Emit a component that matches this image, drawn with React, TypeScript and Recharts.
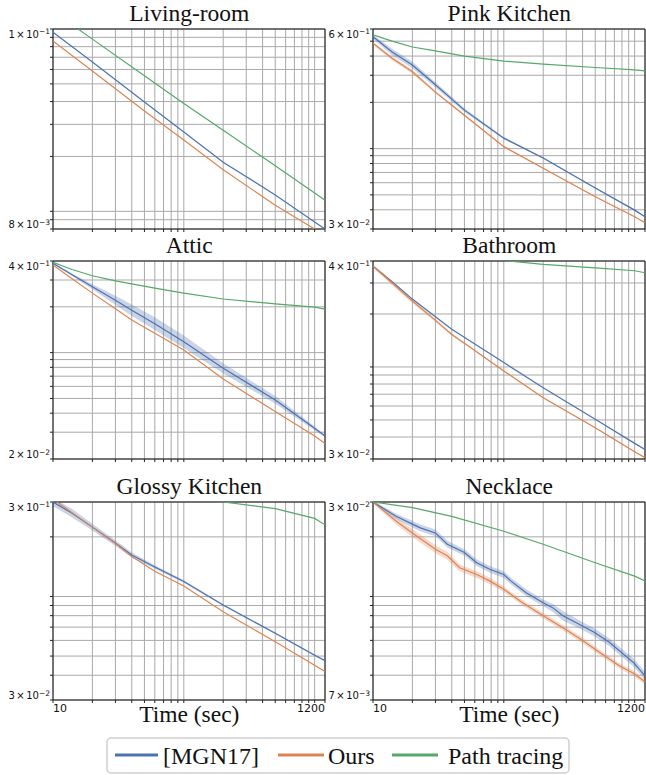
import React from 'react';
import { ComposedChart, Line, Area, XAxis, YAxis, CartesianGrid, ReferenceArea } from 'recharts';

const BLUE = '#4c72b0';
const ORANGE = '#dd8452';
const GREEN = '#55a868';

const SERIES_NAMES = ['[MGN17]', 'Ours', 'Path tracing'];
const X_DOMAIN = [10, 1200];
const X_TICKS = [10, 20, 30, 40, 50, 60, 70, 80, 90, 100, 200, 300, 400, 500, 600, 700, 800, 900, 1000, 1200];
const X_LABEL = 'Time (sec)';

// ---------- Living-room ----------
const LR_T = [10, 20, 50, 100, 200, 500, 1000, 1200];
const LR_MGN = [0.096, 0.066, 0.0398, 0.0272, 0.0186, 0.0123, 0.00873, 0.008];
const LR_OURS = [0.086, 0.0589, 0.0355, 0.0246, 0.0169, 0.0108, 0.008, 0.00734];
const LR_PT = [0.125, 0.088, 0.0554, 0.039, 0.0278, 0.0178, 0.0126, 0.0115];
const LR_Y_DOMAIN = [0.008, 0.1];
const LR_Y_TICKS = [0.008, 0.009, 0.01, 0.02, 0.03, 0.04, 0.05, 0.06, 0.07, 0.08, 0.09, 0.1];
const LR_Y_LABELS = [['8', '−3'], ['1', '−1']];

// ---------- Pink Kitchen ----------
const PK_T = [10, 14, 20, 30, 50, 100, 200, 500, 1000, 1200];
const PK_MGN = [0.534, 0.425, 0.35, 0.26, 0.178, 0.117, 0.0869, 0.0555, 0.0398, 0.036];
const PK_MGN_SPREAD = [0.03, 0.05, 0.05, 0.04, 0.03, 0.015, 0.01, 0.01, 0.01, 0.01];
const PK_OURS = [0.484, 0.387, 0.316, 0.233, 0.165, 0.103, 0.0745, 0.0486, 0.036, 0.033];
const PK_OURS_SPREAD = [0.02, 0.03, 0.03, 0.02, 0.015, 0.01, 0.008, 0.008, 0.008, 0.008];
const PK_PT = [0.549, 0.5, 0.458, 0.432, 0.4, 0.371, 0.355, 0.337, 0.325, 0.32];
const PK_Y_DOMAIN = [0.03, 0.6];
const PK_Y_TICKS = [0.03, 0.04, 0.05, 0.06, 0.07, 0.08, 0.09, 0.1, 0.2, 0.3, 0.4, 0.5, 0.6];
const PK_Y_LABELS = [['3', '−2'], ['6', '−1']];

// ---------- Attic ----------
const AT_T = [10, 14, 20, 30, 40, 60, 100, 200, 500, 1000, 1200];
const AT_MGN = [0.386, 0.325, 0.271, 0.221, 0.19, 0.155, 0.118, 0.0789, 0.0489, 0.0318, 0.0283];
const AT_MGN_SPREAD = [0.01, 0.02, 0.04, 0.07, 0.09, 0.1, 0.1, 0.08, 0.06, 0.03, 0.02];
const AT_OURS = [0.376, 0.306, 0.246, 0.194, 0.164, 0.134, 0.104, 0.0671, 0.041, 0.0283, 0.0253];
const AT_PT = [0.392, 0.352, 0.32, 0.296, 0.283, 0.265, 0.246, 0.225, 0.209, 0.199, 0.193];
const AT_Y_DOMAIN = [0.02, 0.4];
const AT_Y_TICKS = [0.02, 0.03, 0.04, 0.05, 0.06, 0.07, 0.08, 0.09, 0.1, 0.2, 0.3, 0.4];
const AT_Y_LABELS = [['2', '−2'], ['4', '−1']];

// ---------- Bathroom ----------
const BA_T = [10, 14, 20, 30, 40, 60, 100, 200, 500, 1000, 1200];
const BA_MGN = [0.374, 0.305, 0.243, 0.193, 0.164, 0.135, 0.106, 0.0762, 0.0504, 0.0368, 0.034];
const BA_OURS = [0.374, 0.3, 0.237, 0.184, 0.153, 0.124, 0.0949, 0.0669, 0.0452, 0.033, 0.0305];
const BA_OURS_SPREAD = [0.02, 0.03, 0.03, 0.02, 0.015, 0.01, 0.008, 0.006, 0.006, 0.006, 0.006];
const BA_PT = [0.6, 0.54, 0.5, 0.46, 0.44, 0.42, 0.402, 0.383, 0.366, 0.352, 0.343];
const BA_Y_DOMAIN = [0.03, 0.4];
const BA_Y_TICKS = [0.03, 0.04, 0.05, 0.06, 0.07, 0.08, 0.09, 0.1, 0.2, 0.3, 0.4];
const BA_Y_LABELS = [['3', '−2'], ['4', '−1']];

// ---------- Glossy Kitchen ----------
const GK_T = [10, 14, 20, 30, 40, 60, 100, 200, 500, 1000, 1200];
const GK_MGN = [0.3, 0.263, 0.224, 0.186, 0.162, 0.141, 0.119, 0.0905, 0.0652, 0.0505, 0.0474];
const GK_MGN_SPREAD = [0.05, 0.05, 0.04, 0.035, 0.03, 0.02, 0.015, 0.01, 0.01, 0.01, 0.01];
const GK_OURS = [0.31, 0.265, 0.224, 0.185, 0.159, 0.134, 0.113, 0.0838, 0.059, 0.0449, 0.0418];
const GK_PT = [0.335, 0.33, 0.326, 0.322, 0.318, 0.313, 0.308, 0.3, 0.278, 0.248, 0.23];
const GK_Y_DOMAIN = [0.03, 0.3];
const GK_Y_TICKS = [0.03, 0.04, 0.05, 0.06, 0.07, 0.08, 0.09, 0.1, 0.2, 0.3];
const GK_Y_LABELS = [['3', '−2'], ['3', '−1']];

// ---------- Necklace ----------
const NK_MGN_T = [10, 15, 20, 23, 30, 37, 50, 62, 78, 100, 113, 148, 200, 236, 283, 380, 494, 640, 986, 1200];
const NK_MGN = [0.03, 0.027, 0.0255, 0.0248, 0.0239, 0.022, 0.0207, 0.0192, 0.0183, 0.0176, 0.0168, 0.0154, 0.0143, 0.0138, 0.013, 0.0122, 0.0115, 0.0107, 0.0092, 0.00836];
const NK_MGN_SPREAD = [0.01, 0.02, 0.025, 0.025, 0.025, 0.025, 0.025, 0.025, 0.025, 0.025, 0.025, 0.025, 0.025, 0.03, 0.035, 0.03, 0.03, 0.03, 0.03, 0.03];
const NK_OURS_T = [10, 15, 20, 30, 37, 46, 62, 78, 100, 139, 200, 283, 380, 566, 764, 986, 1200];
const NK_OURS = [0.03, 0.0261, 0.0239, 0.0212, 0.0202, 0.0185, 0.0176, 0.0168, 0.0158, 0.0143, 0.013, 0.0119, 0.011, 0.0098, 0.009, 0.0085, 0.008];
const NK_OURS_SPREAD = [0.01, 0.025, 0.03, 0.03, 0.03, 0.025, 0.025, 0.025, 0.02, 0.02, 0.02, 0.02, 0.02, 0.02, 0.02, 0.02, 0.02];
const NK_PT_T = [10, 20, 40, 100, 200, 500, 1000, 1200];
const NK_PT = [0.03, 0.0288, 0.027, 0.0242, 0.022, 0.0192, 0.0174, 0.0168];
const NK_Y_DOMAIN = [0.007, 0.03];
const NK_Y_TICKS = [0.007, 0.0084, 0.00967, 0.01085, 0.01196, 0.01301, 0.01402, 0.01498, 0.02322, 0.03];
const NK_Y_LABELS = [['7', '−3'], ['3', '−2']];

type Series = { key: string; t: number[]; v: number[]; spread?: number[] };

function buildRows(series: Series[]) {
  const map = new Map<number, any>();
  for (const s of series) {
    s.t.forEach((t, i) => {
      const r = map.get(t) ?? { t };
      r[s.key] = s.v[i];
      if (s.spread) r[s.key + 'Band'] = [s.v[i] / (1 + s.spread[i]), s.v[i] * (1 + s.spread[i])];
      map.set(t, r);
    });
  }
  return [...map.values()].sort((a, b) => a.t - b.t);
}

const XTick = (props: any) => {
  const { x, y, payload, show } = props;
  if (!show) return null;
  const v = payload.value;
  if (v === X_DOMAIN[0] || v === X_DOMAIN[1]) {
    return (
      <text x={x} y={y + 7} textAnchor={v === X_DOMAIN[0] ? 'start' : 'end'} fontFamily="DejaVu Sans" fontSize={11} fill="#111">
        {String(v)}
      </text>
    );
  }
  return null;
};

const YTick = (props: any) => {
  const { x, y, payload, labels, domain } = props;
  const v = payload.value;
  let lab: string[] | null = null;
  let dy = 0;
  if (Math.abs(v - domain[1]) / domain[1] < 1e-6) { lab = labels[1]; dy = 8.5; }
  else if (Math.abs(v - domain[0]) / domain[0] < 1e-6) { lab = labels[0]; dy = -1; }
  if (!lab) return null;
  return (
    <text x={x} y={y + dy} textAnchor="end" fontFamily="DejaVu Sans" fontSize={10} fill="#111">
      {lab[0]}
      <tspan dx={1.5}>×</tspan>
      <tspan dx={1.5}>10</tspan>
      <tspan dy={-3.5} fontSize={7.5}>{lab[1]}</tspan>
    </text>
  );
};

type PanelProps = {
  left: number; top: number; w: number; h: number;
  rows: any[]; yDomain: number[]; yTicks: number[]; yLabels: string[][];
  showX: boolean; mgnBand?: boolean; oursBand?: boolean;
};

function Panel(p: PanelProps) {
  const ML = 50, MT = 10, MR = 1, MB = 20;
  return (
    <div style={{ position: 'absolute', left: p.left - ML, top: p.top - MT }}>
      <ComposedChart width={ML + p.w + MR} height={MT + p.h + MB} data={p.rows} margin={{ top: MT, right: MR, left: 0, bottom: 0 }}>
        <CartesianGrid stroke="#a9a9a9" strokeWidth={1} />
        <XAxis dataKey="t" type="number" scale="log" domain={X_DOMAIN} ticks={X_TICKS} interval={0} allowDataOverflow
          axisLine={false} tickLine={{ stroke: '#222' }} tickSize={3} height={MB} tick={<XTick show={p.showX} />} />
        <YAxis type="number" scale="log" domain={p.yDomain} ticks={p.yTicks} interval={0} allowDataOverflow
          axisLine={false} tickLine={{ stroke: '#222' }} tickSize={3} tickMargin={0} width={ML}
          tick={<YTick labels={p.yLabels} domain={p.yDomain} />} />
        {p.mgnBand && (
          <Area dataKey="mgnBand" stroke="none" fill={BLUE} fillOpacity={0.3} connectNulls isAnimationActive={false} />
        )}
        <Line dataKey="mgn" stroke={BLUE} strokeWidth={1.2} dot={false} connectNulls isAnimationActive={false} />
        {p.oursBand && (
          <Area dataKey="oursBand" stroke="none" fill={ORANGE} fillOpacity={0.3} connectNulls isAnimationActive={false} />
        )}
        <Line dataKey="ours" stroke={ORANGE} strokeWidth={1.2} dot={false} connectNulls isAnimationActive={false} />
        <Line dataKey="pt" stroke={GREEN} strokeWidth={1.2} dot={false} connectNulls isAnimationActive={false} />
        <ReferenceArea x1={X_DOMAIN[0]} x2={X_DOMAIN[1]} y1={p.yDomain[0]} y2={p.yDomain[1]} fill="none" fillOpacity={0}
          stroke="#111" strokeWidth={1} ifOverflow="visible" />
      </ComposedChart>
    </div>
  );
}

const W = 272;
const COL_L = [53.3, 373.3];
const ROW_T = [29, 261, 502];
const ROW_H = [200, 198, 198];

const PANELS = [
  { title: 'Living-room', col: 0, row: 0, yDomain: LR_Y_DOMAIN, yTicks: LR_Y_TICKS, yLabels: LR_Y_LABELS,
    rows: buildRows([{ key: 'mgn', t: LR_T, v: LR_MGN }, { key: 'ours', t: LR_T, v: LR_OURS }, { key: 'pt', t: LR_T, v: LR_PT }]) },
  { title: 'Pink Kitchen', col: 1, row: 0, yDomain: PK_Y_DOMAIN, yTicks: PK_Y_TICKS, yLabels: PK_Y_LABELS, mgnBand: true, oursBand: true,
    rows: buildRows([{ key: 'mgn', t: PK_T, v: PK_MGN, spread: PK_MGN_SPREAD }, { key: 'ours', t: PK_T, v: PK_OURS, spread: PK_OURS_SPREAD }, { key: 'pt', t: PK_T, v: PK_PT }]) },
  { title: 'Attic', col: 0, row: 1, yDomain: AT_Y_DOMAIN, yTicks: AT_Y_TICKS, yLabels: AT_Y_LABELS, mgnBand: true,
    rows: buildRows([{ key: 'mgn', t: AT_T, v: AT_MGN, spread: AT_MGN_SPREAD }, { key: 'ours', t: AT_T, v: AT_OURS }, { key: 'pt', t: AT_T, v: AT_PT }]) },
  { title: 'Bathroom', col: 1, row: 1, yDomain: BA_Y_DOMAIN, yTicks: BA_Y_TICKS, yLabels: BA_Y_LABELS, oursBand: true,
    rows: buildRows([{ key: 'mgn', t: BA_T, v: BA_MGN }, { key: 'ours', t: BA_T, v: BA_OURS, spread: BA_OURS_SPREAD }, { key: 'pt', t: BA_T, v: BA_PT }]) },
  { title: 'Glossy Kitchen', col: 0, row: 2, yDomain: GK_Y_DOMAIN, yTicks: GK_Y_TICKS, yLabels: GK_Y_LABELS, mgnBand: true,
    rows: buildRows([{ key: 'mgn', t: GK_T, v: GK_MGN, spread: GK_MGN_SPREAD }, { key: 'ours', t: GK_T, v: GK_OURS }, { key: 'pt', t: GK_T, v: GK_PT }]) },
  { title: 'Necklace', col: 1, row: 2, yDomain: NK_Y_DOMAIN, yTicks: NK_Y_TICKS, yLabels: NK_Y_LABELS, mgnBand: true, oursBand: true,
    rows: buildRows([{ key: 'mgn', t: NK_MGN_T, v: NK_MGN, spread: NK_MGN_SPREAD }, { key: 'ours', t: NK_OURS_T, v: NK_OURS, spread: NK_OURS_SPREAD }, { key: 'pt', t: NK_PT_T, v: NK_PT }]) },
];

const SERIF = '"Liberation Serif", "Times New Roman", serif';

export default function App() {
  const legendItems = [
    { name: SERIES_NAMES[0], color: BLUE, x1: 115, x2: 158, tx: 163 },
    { name: SERIES_NAMES[1], color: ORANGE, x1: 278, x2: 324, tx: 328 },
    { name: SERIES_NAMES[2], color: GREEN, x1: 392, x2: 438, tx: 448 },
  ];
  return (
    <div style={{ position: 'absolute', left: 0, top: 0, width: 646, height: 775, background: '#fff', overflow: 'hidden' }}>
      {PANELS.map((p) => (
        <Panel key={p.title} left={COL_L[p.col]} top={ROW_T[p.row]} w={W} h={ROW_H[p.row]} rows={p.rows}
          yDomain={p.yDomain} yTicks={p.yTicks} yLabels={p.yLabels} showX={p.row === 2}
          mgnBand={(p as any).mgnBand} oursBand={(p as any).oursBand} />
      ))}
      <svg width={646} height={775} style={{ position: 'absolute', left: 0, top: 0, pointerEvents: 'none' }}>
        {PANELS.map((p) => (
          <text key={p.title} x={COL_L[p.col] + W / 2} y={ROW_T[p.row] - 8} textAnchor="middle" fontFamily={SERIF} fontSize={23.5} fill="#111">
            {p.title}
          </text>
        ))}
        {COL_L.map((l, i) => (
          <text key={i} x={l + W / 2} y={722} textAnchor="middle" fontFamily={SERIF} fontSize={23.5} fill="#111">{X_LABEL}</text>
        ))}
        <rect x={107} y={738} width={462} height={35} rx={4} fill="#fff" stroke="#cfcfcf" strokeWidth={1.5} />
        {legendItems.map((it) => (
          <g key={it.name}>
            <line x1={it.x1} x2={it.x2} y1={755} y2={755} stroke={it.color} strokeWidth={3.2} />
            <text x={it.tx} y={764} fontFamily={SERIF} fontSize={24} fill="#111">{it.name}</text>
          </g>
        ))}
      </svg>
    </div>
  );
}
